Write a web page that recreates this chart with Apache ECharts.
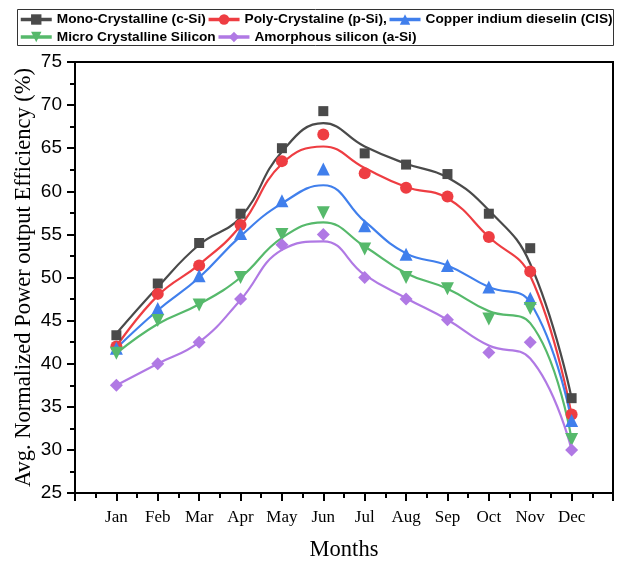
<!DOCTYPE html>
<html>
<head>
<meta charset="utf-8">
<script src="https://cdn.jsdelivr.net/npm/echarts@6/dist/echarts.min.js"></script>
<style>
  html, body { margin: 0; padding: 0; background: #fff; }
  #chart { width: 627px; height: 562px; }
</style>
</head>
<body>
<div id="chart"></div>
<script>
// Month labels for the x axis (positions 1..12)
const months = ['Jan', 'Feb', 'Mar', 'Apr', 'May', 'Jun', 'Jul', 'Aug', 'Sep', 'Oct', 'Nov', 'Dec'];

// Measured monthly averages (markers)
const monoPts  = [43.3, 49.3, 54.0, 57.4, 65.0, 69.3, 64.4, 63.1, 62.0, 57.4, 53.4, 36.0];
const polyPts  = [42.0, 48.1, 51.4, 56.1, 63.5, 66.6, 62.1, 60.4, 59.4, 54.7, 50.7, 34.1];
const cisPts   = [41.8, 46.4, 50.2, 55.1, 58.9, 62.6, 56.0, 52.7, 51.4, 48.9, 47.6, 33.4];
const microPts = [41.2, 45.0, 46.8, 50.0, 55.0, 57.5, 53.3, 50.0, 48.7, 45.2, 46.4, 31.2];
const amorPts  = [37.5, 40.0, 42.5, 47.5, 53.8, 55.0, 50.0, 47.5, 45.1, 41.3, 42.5, 30.0];

// Smoothed trend curves, value of each curve at every month
const monoFit  = [43.5, 48.9, 53.8, 57.0, 64.6, 67.9, 65.2, 63.2, 61.6, 57.8, 51.6, 36.0];
const polyFit  = [42.0, 47.9, 51.5, 56.0, 63.2, 65.2, 62.7, 60.5, 59.2, 54.7, 50.2, 34.0];
const cisFit   = [41.8, 46.2, 50.0, 54.8, 58.6, 60.7, 56.5, 52.8, 51.4, 48.9, 47.1, 33.3];
const microFit = [41.2, 44.6, 46.9, 50.0, 54.6, 56.4, 53.6, 50.5, 48.7, 46.1, 44.7, 31.2];
const amorFit  = [37.5, 40.0, 42.5, 47.4, 53.2, 54.2, 50.3, 47.6, 45.1, 42.1, 40.6, 30.0];

const names = [
  'Mono-Crystalline (c-Si)',
  'Poly-Crystaline (p-Si),',
  'Copper indium dieselin (CIS)',
  'Micro Crystalline Silicon',
  'Amorphous silicon (a-Si)'
];
const colors = ['#4a4a4a', '#ee3d42', '#407fec', '#56b96b', '#b079e4'];
const symbols = ['rect', 'circle', 'triangle', 'triangle', 'diamond'];
const rotates = [0, 0, 0, 180, 0];
const sizes = [10, 12, 13, 13, 13];
const pts = [monoPts, polyPts, cisPts, microPts, amorPts];
const fits = [monoFit, polyFit, cisFit, microFit, amorFit];

const toXY = arr => arr.map((v, i) => [i + 1, v]);

const lineSeries = names.map((n, k) => ({
  name: n,
  type: 'line',
  smooth: 0.45,
  showSymbol: false,
  symbol: symbols[k],
  symbolRotate: rotates[k],
  symbolSize: sizes[k],
  color: colors[k],
  lineStyle: { width: 2.2, color: colors[k] },
  itemStyle: { color: colors[k] },
  data: toXY(fits[k]),
  silent: true,
  z: 2
}));

const pointSeries = names.map((n, k) => ({
  name: n,
  type: 'scatter',
  symbol: symbols[k],
  symbolRotate: rotates[k],
  symbolSize: sizes[k],
  itemStyle: { color: colors[k], opacity: 1 },
  data: toXY(pts[k]),
  z: 3
}));

const legendText = {
  fontFamily: 'Liberation Sans',
  fontWeight: 'bold',
  fontSize: 13.7,
  color: '#000'
};
const legendBase = {
  itemWidth: 31, itemHeight: 13, itemGap: 1,
  lineStyle: { width: 3.5 },
  textStyle: legendText,
  padding: 0
};

const chart = echarts.init(document.getElementById('chart'), null, { renderer: 'canvas' });
chart.setOption({
  animation: false,
  backgroundColor: '#fff',
  grid: {
    left: 75, right: 14, top: 62, bottom: 69,
    outerBoundsMode: 'none',
    containLabel: false,
    show: true, borderColor: '#000', borderWidth: 2, backgroundColor: 'transparent'
  },
  legend: [
    Object.assign({ data: names.slice(0, 3), left: 19, top: 12.5 }, legendBase),
    Object.assign({ data: names.slice(3), left: 19, top: 30 }, legendBase)
  ],
  graphic: [{
    type: 'rect',
    shape: { x: 17.5, y: 9.5, width: 596, height: 36 },
    style: { fill: 'none', stroke: '#333', lineWidth: 1 },
    silent: true
  }],
  xAxis: {
    type: 'value',
    min: 0, max: 13, interval: 1,
    name: 'Months',
    nameLocation: 'middle',
    nameGap: 46,
    nameMoveOverlap: false,
    nameTextStyle: { fontFamily: 'Liberation Serif', fontSize: 22.5, color: '#000' },
    axisLine: { show: true, onZero: false, lineStyle: { color: '#000', width: 2 } },
    axisTick: { show: true, inside: false, length: 8, lineStyle: { color: '#000', width: 2 } },
    minorTick: { show: true, splitNumber: 2, length: 5, lineStyle: { color: '#000', width: 2 } },
    splitLine: { show: false },
    axisLabel: {
      margin: 16,
      fontFamily: 'Liberation Serif', fontSize: 17, color: '#000',
      showMinLabel: false, showMaxLabel: false,
      formatter: v => (v >= 1 && v <= 12 ? months[v - 1] : '')
    }
  },
  yAxis: {
    type: 'value',
    min: 25, max: 75, interval: 5,
    name: 'Avg. Normalized Power output Efficiency (%)',
    nameLocation: 'middle',
    nameGap: 39,
    nameMoveOverlap: false,
    nameTextStyle: { fontFamily: 'Liberation Serif', fontSize: 22.5, color: '#000' },
    axisLine: { show: true, onZero: false, lineStyle: { color: '#000', width: 2 } },
    axisTick: { show: true, inside: false, length: 8, lineStyle: { color: '#000', width: 2 } },
    minorTick: { show: true, splitNumber: 2, length: 5, lineStyle: { color: '#000', width: 2 } },
    splitLine: { show: false },
    axisLabel: {
      margin: 13,
      fontFamily: 'Liberation Sans', fontSize: 19, color: '#000'
    }
  },
  series: lineSeries.concat(pointSeries)
});
</script>
</body>
</html>
